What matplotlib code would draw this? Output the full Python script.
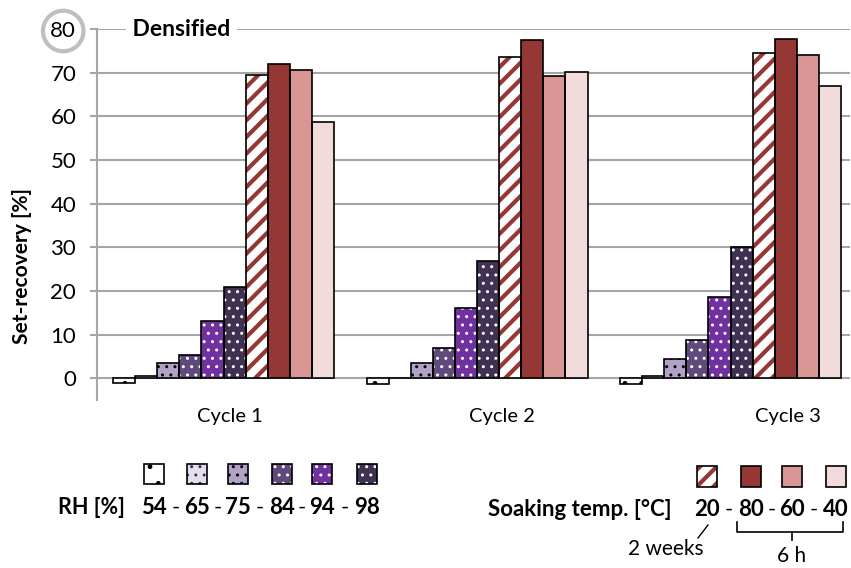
import matplotlib
matplotlib.use('Agg')
import matplotlib.pyplot as plt

plt.rcParams['font.family'] = ['Lato', 'DejaVu Sans']

cycles = ['Cycle 1', 'Cycle 2', 'Cycle 3']
rh_levels = ['54', '65', '75', '84', '94', '98']
soak_temps = ['20', '80', '60', '40']

# set-recovery [%] per cycle
rh54 = [-1.2, -1.4, -1.3]
rh65 = [0.6, 0.0, 0.5]
rh75 = [3.4, 3.5, 4.3]
rh84 = [5.2, 7.0, 8.7]
rh94 = [13.1, 16.1, 18.6]
rh98 = [20.9, 26.9, 30.0]
t20 = [69.4, 73.6, 74.4]
t80 = [71.9, 77.5, 77.7]
t60 = [70.7, 69.2, 74.0]
t40 = [58.6, 70.1, 67.0]

series = [rh54, rh65, rh75, rh84, rh94, rh98, t20, t80, t60, t40]
# (fill, hatch, hatch colour)
styles = [
    ('white', '.', 'black'),
    ('#e4dfec', '..', '#3f3151'),
    ('#b3a2c7', '..', 'black'),
    ('#604a7b', '..', 'white'),
    ('#7030a0', '..', 'white'),
    ('#403152', '..', 'white'),
    ('white', '//', '#953735'),
    ('#953735', None, None),
    ('#d99694', None, None),
    ('#f2dcdb', None, None),
]


def draw_bar(axis, x, h, w, style, **kw):
    fill, hatch, hc = style
    lw_h = 3.0 if hatch == '//' else 1.0
    with plt.rc_context({'hatch.linewidth': lw_h}):
        axis.bar(x, h, w, color=fill, edgecolor=hc if hc else fill,
                 hatch=hatch, linewidth=0, zorder=2, **kw)
    axis.bar(x, h, w, fill=False, edgecolor='black', linewidth=1.2, zorder=3, **kw)


fig = plt.figure(figsize=(8.51, 5.68), dpi=100)
ax = fig.add_axes([97 / 851, 1 - 400 / 568, 753 / 851, 371 / 568])

w = 0.0872
for j, (vals, st) in enumerate(zip(series, styles)):
    xs = [i + (j - 4.5) * w for i in range(len(cycles))]
    draw_bar(ax, xs, vals, w, st)

ax.set_xlim(-0.499, 2.471)
ax.set_ylim(-5, 80)
ax.set_yticks(range(0, 81, 10))
ax.yaxis.grid(True, color='#a6a6a6', linewidth=1.5, zorder=0)
ax.set_axisbelow(True)
for s in ['top', 'right', 'bottom']:
    ax.spines[s].set_visible(False)
ax.spines['left'].set_color('#a6a6a6')
ax.spines['left'].set_linewidth(1.5)
ax.tick_params(axis='y', length=5, width=1.5, color='#a6a6a6', pad=10, labelsize=16)
ax.tick_params(axis='x', length=0, pad=6, labelsize=14.5)
ax.set_xticks([0.026, 1.1, 2.225])
ax.set_xticklabels(cycles)
ax.set_ylabel('Set-recovery [%]', fontsize=15, fontweight='bold')
ax.yaxis.set_label_coords(-0.086, 0.36)

lab80 = ax.get_yticklabels()[-1]
lab80.set_bbox(dict(boxstyle='circle,pad=0.33', facecolor='white',
                    edgecolor='#bfbfbf', linewidth=3))

ax.text(0.04, 80, ' Densified ', transform=ax.get_yaxis_transform(),
        fontsize=16.5, fontweight='bold', va='center', ha='left',
        bbox=dict(facecolor='white', edgecolor='none', pad=1), zorder=5)

# legend area in pixel coordinates
lg = fig.add_axes([0, 0, 1, 1])
lg.set_xlim(0, 851)
lg.set_ylim(568, 0)
lg.axis('off')
lg.patch.set_alpha(0)

rh_x = [154, 197, 238, 282, 322, 367]
for k, lab in enumerate(rh_levels):
    draw_bar(lg, rh_x[k], 20, 20, styles[k], bottom=464)
    lg.text(rh_x[k], 508, lab, fontsize=16, fontweight='bold', ha='center', va='center')
    if k < len(rh_levels) - 1:
        lg.text((rh_x[k] + rh_x[k + 1]) / 2, 508, '-', fontsize=16, ha='center', va='center')
lg.text(125, 508, 'RH [%]', fontsize=15.5, fontweight='bold', ha='right', va='center')

st_x = [707, 751, 792, 836]
for k, lab in enumerate(soak_temps):
    draw_bar(lg, st_x[k], 21, 20, styles[6 + k], bottom=466)
    lg.text(st_x[k], 510, lab, fontsize=16, fontweight='bold', ha='center', va='center')
    if k < len(soak_temps) - 1:
        lg.text((st_x[k] + st_x[k + 1]) / 2, 510, '-', fontsize=16, ha='center', va='center')
lg.text(672, 510, 'Soaking temp. [°C]', fontsize=16, fontweight='bold', ha='right', va='center')

lg.plot([708, 698], [525, 538], color='black', linewidth=1)
lg.text(666, 549, '2 weeks', fontsize=15, ha='center', va='center')
lg.plot([737, 737, 843, 843], [522, 532, 532, 522], color='black', linewidth=1.2)
lg.plot([792, 792], [532, 540], color='black', linewidth=1.2)
lg.text(792, 556, '6 h', fontsize=15, ha='center', va='center')

fig.savefig('out.png', dpi=100)
